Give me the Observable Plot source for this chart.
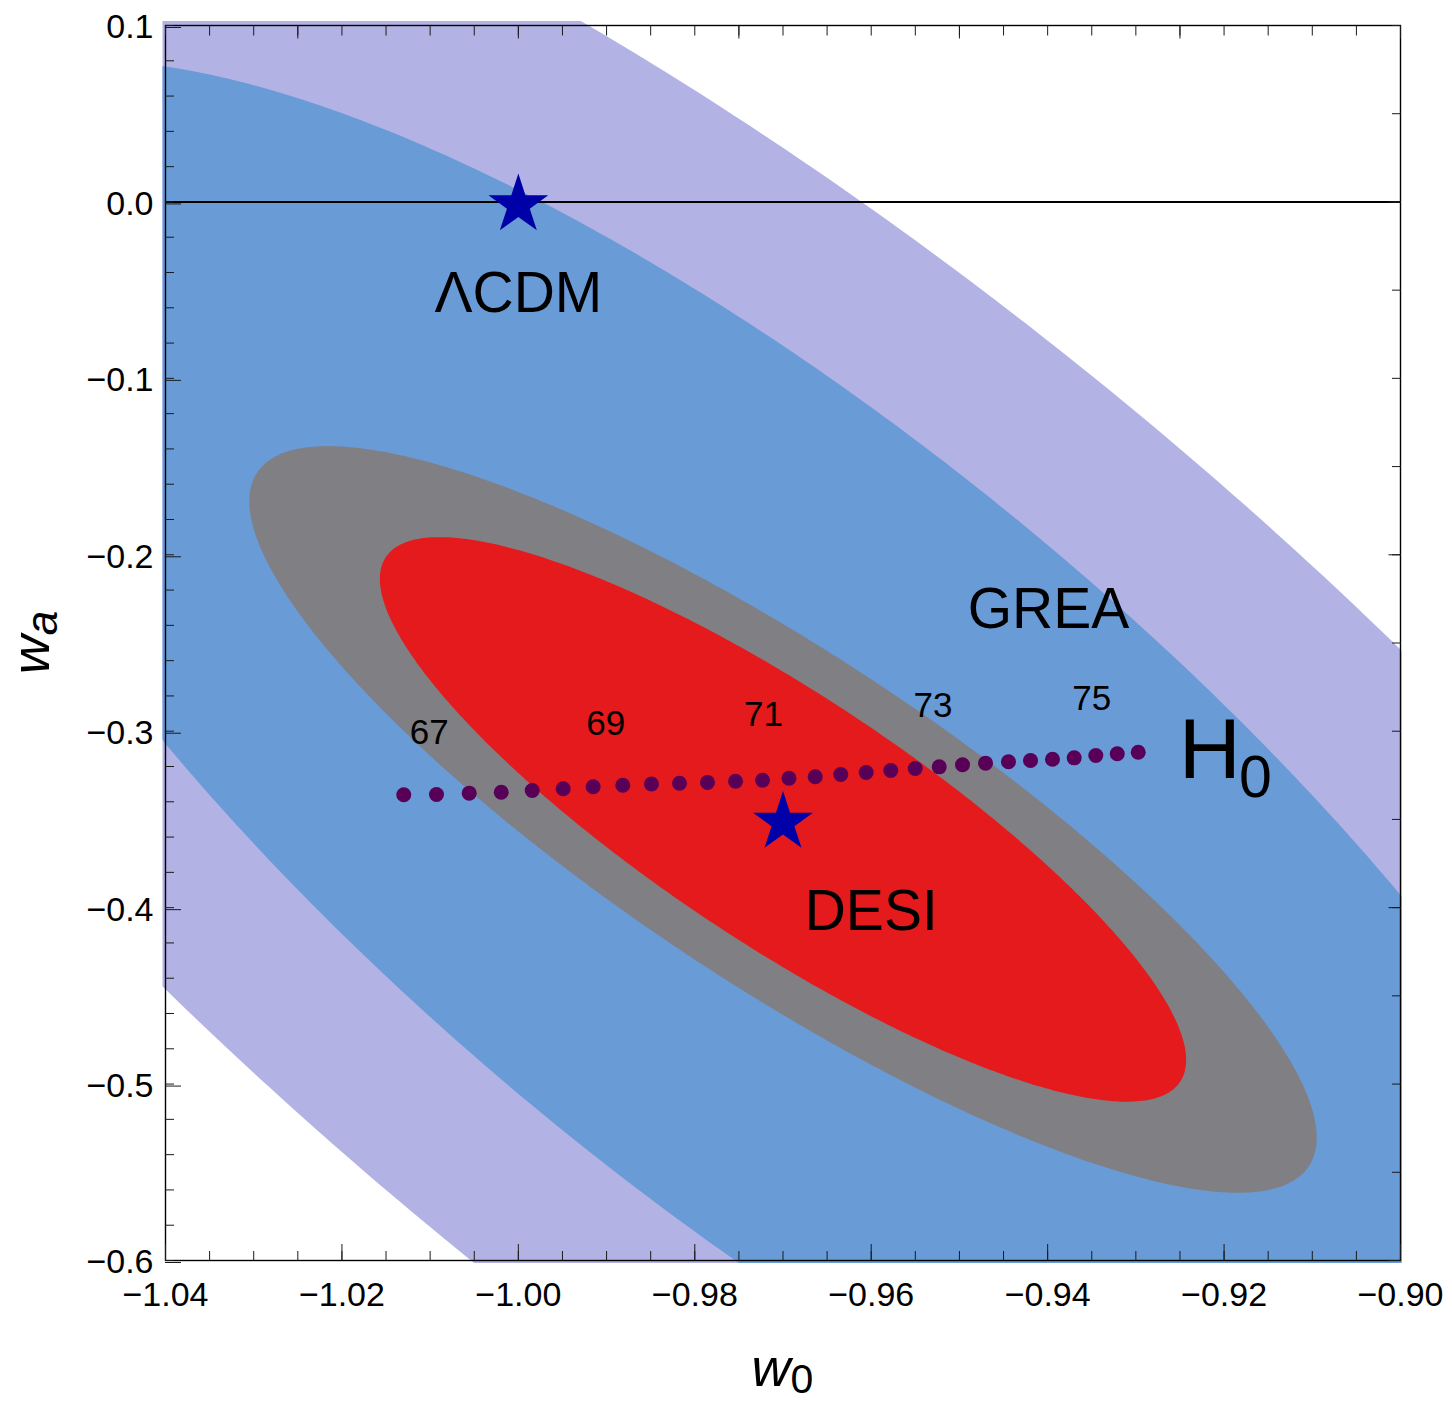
<!DOCTYPE html>
<html>
<head>
<meta charset="utf-8">
<script src="https://cdn.jsdelivr.net/npm/d3@7"></script>
<script src="https://cdn.jsdelivr.net/npm/@observablehq/plot@0.6"></script>
<style>
  html, body { margin: 0; padding: 0; background: #ffffff; }
  #chart { width: 1452px; height: 1402px; }
</style>
</head>
<body>
<div id="chart"></div>
<script>
// ---------------- data ----------------
// confidence contours (center, widths, correlation) in (w0, wa)
const contourNames    = ["GREA outer", "GREA inner", "DESI outer", "DESI inner"];
const contourCenterW0 = [-0.970, -0.970, -0.970, -0.970];
const contourCenterWa = [-0.350, -0.350, -0.350, -0.350];
const contourWidthW0  = [0.1419, 0.1001, 0.0605, 0.0457];
const contourWidthWa  = [0.6095, 0.4299, 0.2116, 0.1600];
const contourRho      = [-0.781, -0.781, -0.852, -0.852];
const contourColors   = ["#b2b2e4", "#699bd7", "#807f84", "#e41a1c"];

// H0 track (dotted)
const h0DotW0 = [-1.01299, -1.00928, -1.00557, -1.00194, -0.99843, -0.99492, -0.99152, -0.98816,
                 -0.98491, -0.98173, -0.97856, -0.97538, -0.97232, -0.96932, -0.96635, -0.96345,
                 -0.96057, -0.95778, -0.95501, -0.95229, -0.94965, -0.94704, -0.94444, -0.94194,
                 -0.93945, -0.93699, -0.93454, -0.93211, -0.92973];
const h0DotWa = [-0.3360, -0.3359, -0.3351, -0.3346, -0.3336, -0.3326, -0.3315, -0.3306,
                 -0.3299, -0.3295, -0.3290, -0.3284, -0.3278, -0.3267, -0.3258, -0.3245,
                 -0.3234, -0.3223, -0.3211, -0.3202, -0.3190, -0.3181, -0.3173, -0.3166,
                 -0.3159, -0.3151, -0.3138, -0.3128, -0.3119];

// H0 value labels
const h0Labels   = ["67", "69", "71", "73", "75"];
const h0LabelW0  = [-1.0101, -0.9901, -0.9722, -0.9530, -0.9350];
const h0LabelWa  = [-0.3074, -0.3023, -0.2970, -0.2919, -0.2878];

// stars (best fits)
const starNames = ["ΛCDM", "DESI"];
const starW0 = [-1.00, -0.97];
const starWa = [0.00, -0.35];

// region labels
const regionLabels  = ["ΛCDM", "GREA", "DESI"];
const regionLabelW0 = [-1.0000, -0.9399, -0.9600];
const regionLabelWa = [-0.0626, -0.2417, -0.4128];

// big H0 label (letter + subscript)
const bigLabelText = ["H", "0"];
const bigLabelW0   = [-0.92515, -0.91830];
const bigLabelWa   = [-0.3267, -0.3375];
const bigLabelSize = [86, 59];

// axis tick labels
const xTickValues = [-1.04, -1.02, -1.00, -0.98, -0.96, -0.94, -0.92, -0.90];
const yTickValues = [0.1, 0.0, -0.1, -0.2, -0.3, -0.4, -0.5, -0.6];

// ---------------- build ----------------
const FONT = "'Liberation Sans', Arial, Helvetica, sans-serif";

// contour outlines from their parameters
const contourOutlines = contourNames.map((name, k) => {
  const pts = [];
  const n = 480;
  const s = Math.sqrt(1 - contourRho[k] * contourRho[k]);
  for (let i = 0; i < n; i++) {
    const t = (2 * Math.PI * i) / n;
    pts.push({
      name,
      w0: contourCenterW0[k] + contourWidthW0[k] * Math.cos(t),
      wa: contourCenterWa[k] + contourWidthWa[k] * (contourRho[k] * Math.cos(t) + s * Math.sin(t))
    });
  }
  return pts;
});

const dots = h0DotW0.map((w0, i) => ({w0, wa: h0DotWa[i]}));
const stars = starW0.map((w0, i) => ({name: starNames[i], w0, wa: starWa[i]}));
const h0Text = h0Labels.map((t, i) => ({t, w0: h0LabelW0[i], wa: h0LabelWa[i]}));
const regionText = regionLabels.map((t, i) => ({t, w0: regionLabelW0[i], wa: regionLabelWa[i]}));
const bigText = bigLabelText.map((t, i) => ({t, w0: bigLabelW0[i], wa: bigLabelWa[i], size: bigLabelSize[i]}));

const fmtX = d => (d < 0 ? "\u2212" : "") + Math.abs(d).toFixed(2);
const fmtY = d => (d < -1e-9 ? "\u2212" : "") + Math.abs(d).toFixed(1);
const blank = () => "";

const xMinor = d3.range(-1.04, -0.8999, 0.005);
const xTopMajor = d3.range(-1.025, -0.8999, 0.025);
const yMinor = d3.range(-0.6, 0.1001, 0.02);
const yRightMinor = d3.range(-0.6, 0.1001, 0.05);
const yRightMajor = [0.0, -0.2, -0.4, -0.6];

const tickStroke = "#1a1a1a";
const TICKFONT = 34;

const plot = Plot.plot({
  width: 1452,
  height: 1402,
  marginLeft: 165,
  marginRight: 52,
  marginTop: 25,
  marginBottom: 142,
  style: {fontFamily: FONT, background: "#ffffff", color: "#000000"},
  x: {domain: [-1.04, -0.90]},
  y: {domain: [-0.6, 0.1]},
  marks: [
    ...contourOutlines.map((pts, k) =>
      Plot.line(pts, {x: "w0", y: "wa", fill: contourColors[k], stroke: "none", curve: "linear-closed", clip: true})
    ),
    Plot.ruleY([0], {stroke: "#000000", strokeWidth: 2}),
    Plot.dot(dots, {x: "w0", y: "wa", r: 7.5, fill: "#580058", stroke: "none"}),
    Plot.dot(stars, {x: "w0", y: "wa", symbol: "star", r: 18.8, dy: 3, fill: "#0000a8", stroke: "none"}),
    Plot.text(h0Text, {x: "w0", y: "wa", text: "t", fontSize: 35, textAnchor: "middle", lineAnchor: "bottom", fill: "#000000"}),
    Plot.text(regionText, {x: "w0", y: "wa", text: "t", fontSize: 57, textAnchor: "middle", lineAnchor: "bottom", fill: "#000000"}),
    Plot.text(bigText, {x: "w0", y: "wa", text: "t", fontSize: "size", textAnchor: "start", lineAnchor: "bottom", fill: "#000000"}),
    // frame
    Plot.frame({stroke: "#000000", strokeWidth: 1.4}),
    // left axis
    Plot.axisY(yMinor, {anchor: "left", tickSize: -9, tickFormat: blank, label: null, stroke: tickStroke}),
    Plot.axisY(yTickValues, {anchor: "left", tickSize: -16, tickPadding: 28, dy: 2, tickFormat: fmtY, fontSize: TICKFONT, label: null, stroke: tickStroke}),
    // bottom axis
    Plot.axisX(xMinor, {anchor: "bottom", tickSize: -9, tickFormat: blank, label: null, stroke: tickStroke}),
    Plot.axisX(xTickValues, {anchor: "bottom", tickSize: -16, tickPadding: 37, tickFormat: fmtX, fontSize: TICKFONT, label: null, stroke: tickStroke}),
    // top axis (unlabelled)
    Plot.axisX(xMinor, {anchor: "top", tickSize: -9.5, tickFormat: blank, label: null, stroke: tickStroke}),
    Plot.axisX(xTopMajor, {anchor: "top", tickSize: -12.5, tickFormat: blank, label: null, stroke: tickStroke}),
    // right axis (unlabelled)
    Plot.axisY(yRightMinor, {anchor: "right", tickSize: -9, tickFormat: blank, label: null, stroke: tickStroke}),
    Plot.axisY(yRightMajor, {anchor: "right", tickSize: -12.5, tickFormat: blank, label: null, stroke: tickStroke})
  ]
});

// filled regions reach a few pixels past the frame, as in the reference
d3.select(plot).selectAll("clipPath rect").each(function () {
  const r = d3.select(this);
  const x = +r.attr("x"), y = +r.attr("y"), w = +r.attr("width"), h = +r.attr("height");
  r.attr("x", x - 2.5).attr("y", y - 4).attr("width", w + 4).attr("height", h + 7);
});

// axis titles with sub-scripts
const svg = d3.select(plot);
const xt = svg.append("text")
  .attr("x", 782.5).attr("y", 1386)
  .attr("text-anchor", "middle")
  .attr("font-family", FONT).attr("fill", "#000000");
xt.append("tspan").attr("font-style", "italic").attr("font-size", 54).text("w");
xt.append("tspan").attr("font-size", 41).attr("dy", 7).text("0");

const yt = svg.append("text")
  .attr("transform", "translate(49,642.5) rotate(-90)")
  .attr("text-anchor", "middle")
  .attr("font-family", FONT).attr("fill", "#000000");
yt.append("tspan").attr("font-style", "italic").attr("font-size", 54).text("w");
yt.append("tspan").attr("font-style", "italic").attr("font-size", 44).attr("dy", 8).text("a");

document.getElementById("chart").appendChild(plot);
</script>
</body>
</html>
